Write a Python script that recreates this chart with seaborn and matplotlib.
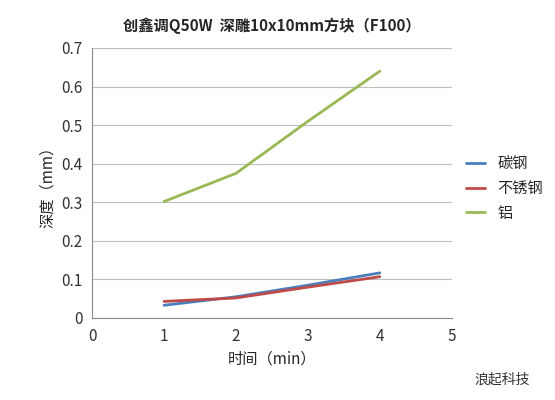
import matplotlib
matplotlib.use("Agg")
import matplotlib.pyplot as plt
import seaborn as sns
import pandas as pd

sns.set_style("white")
plt.rcParams['font.family'] = ['Noto Sans CJK SC', 'DejaVu Sans']

minutes = [1, 2, 3, 4]
carbon = [0.033, 0.055, 0.085, 0.117]
stainless = [0.043, 0.052, 0.080, 0.107]
aluminum = [0.302, 0.375, 0.510, 0.640]
names = ["碳钢", "不锈钢", "铝"]
colors = ["#4a7ebb", "#be4b48", "#98b954"]

df = pd.concat([pd.DataFrame({"t": minutes, "d": v, "s": n})
                for v, n in zip([carbon, stainless, aluminum], names)])

fig = plt.figure(figsize=(5.55, 4), dpi=100)
ax = fig.add_axes([0.166, 0.205, 0.648, 0.675])
sns.lineplot(data=df, x="t", y="d", hue="s", palette=colors, linewidth=2, ax=ax)
ax.set_xlim(0, 5)
ax.set_ylim(0, 0.7)
ax.set_xticks(range(6))
ax.set_yticks([i / 10 for i in range(8)])
ax.set_yticklabels(["0"] + [f"{i/10:.1f}" for i in range(1, 8)])
ax.yaxis.grid(True, color="#bfbfbf", linewidth=0.8)
for s in ["top", "right"]:
    ax.spines[s].set_visible(False)
ax.spines["left"].set_color("#888888")
ax.spines["bottom"].set_color("#888888")
ax.tick_params(labelsize=11, colors="#333333")
ax.set_xlabel("时间（min）", fontsize=11)
ax.set_ylabel("深度（mm）", fontsize=11)
ax.set_title("创鑫调Q50W  深雕10x10mm方块（F100）", fontsize=11, fontweight="bold", pad=12)
ax.legend(title=None, loc="center left", bbox_to_anchor=(1.0, 0.48), frameon=False,
          fontsize=11, handlelength=1.3)
fig.text(0.855, 0.04, "浪起科技", fontsize=10, color="#333333")
fig.savefig("out.png", dpi=100)
